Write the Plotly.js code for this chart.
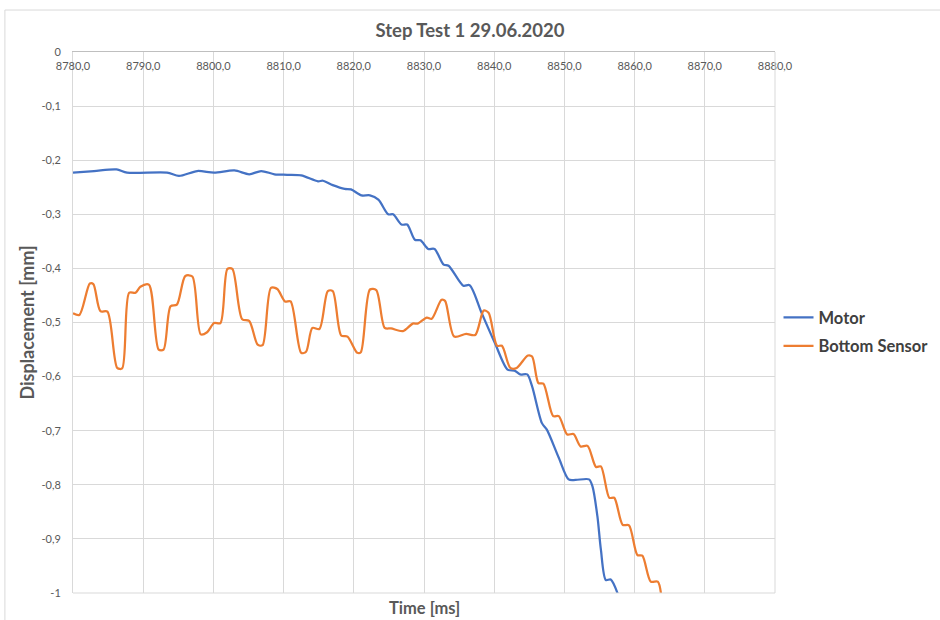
<!DOCTYPE html>
<html>
<head>
<meta charset="utf-8">
<script src="https://cdn.plot.ly/plotly-3.0.1.min.js"></script>
<style>html,body{margin:0;padding:0;background:#fff}#chart{width:940px;height:620px}</style>
</head>
<body>
<div id="chart"></div>
<script>
// Motor series (time in ms, displacement in mm)
const motorTime = [8780.0,8783.0,8786.2,8787.7,8793.4,8795.1,8797.7,8800.1,8803.0,8805.1,8806.8,8808.7,8810.5,8812.5,8814.9,8815.6,8817.0,8818.7,8819.6,8821.1,8822.3,8823.5,8824.9,8825.6,8826.8,8827.6,8828.7,8829.5,8830.6,8831.5,8832.8,8833.5,8835.6,8836.5,8838.2,8840.1,8841.9,8842.9,8843.7,8844.7,8845.4,8846.8,8847.5,8849.2,8850.6,8851.6,8853.5,8854.0,8854.7,8855.2,8855.9,8856.6,8857.7];
const motorDisp = [-0.223,-0.220,-0.217,-0.223,-0.223,-0.229,-0.220,-0.223,-0.219,-0.226,-0.220,-0.226,-0.227,-0.228,-0.239,-0.238,-0.246,-0.253,-0.254,-0.265,-0.265,-0.273,-0.300,-0.300,-0.319,-0.319,-0.347,-0.348,-0.364,-0.364,-0.393,-0.395,-0.432,-0.431,-0.482,-0.538,-0.587,-0.589,-0.596,-0.596,-0.618,-0.686,-0.698,-0.750,-0.790,-0.791,-0.790,-0.803,-0.858,-0.920,-0.976,-0.975,-1.005];

// Bottom Sensor series
const sensorTime = [8780.0,8780.9,8782.4,8782.9,8783.9,8784.9,8786.3,8787.0,8788.0,8788.9,8789.6,8790.8,8792.2,8792.9,8793.9,8794.8,8796.0,8797.0,8798.2,8799.1,8800.1,8801.0,8802.0,8802.7,8804.1,8805.1,8806.3,8807.0,8808.2,8809.1,8810.2,8811.0,8812.5,8813.2,8814.1,8815.1,8816.3,8817.0,8818.2,8819.1,8820.5,8821.0,8822.3,8823.2,8824.4,8825.3,8827.0,8828.4,8829.1,8830.4,8831.1,8832.5,8833.0,8834.3,8836.0,8837.3,8838.5,8839.2,8840.4,8841.1,8842.3,8843.2,8844.8,8845.4,8846.3,8847.0,8848.4,8849.2,8850.4,8851.3,8852.3,8853.3,8854.5,8855.2,8856.4,8857.1,8858.3,8859.2,8860.4,8861.1,8862.3,8863.3,8863.8];
const sensorDisp = [-0.483,-0.486,-0.428,-0.429,-0.479,-0.480,-0.584,-0.585,-0.445,-0.445,-0.434,-0.430,-0.550,-0.550,-0.470,-0.467,-0.414,-0.415,-0.522,-0.518,-0.501,-0.501,-0.401,-0.401,-0.494,-0.497,-0.541,-0.542,-0.436,-0.438,-0.461,-0.461,-0.556,-0.554,-0.510,-0.512,-0.442,-0.442,-0.524,-0.526,-0.556,-0.555,-0.439,-0.440,-0.510,-0.511,-0.516,-0.502,-0.502,-0.491,-0.493,-0.458,-0.460,-0.526,-0.521,-0.523,-0.478,-0.482,-0.543,-0.543,-0.584,-0.584,-0.561,-0.563,-0.612,-0.613,-0.673,-0.673,-0.707,-0.706,-0.729,-0.728,-0.767,-0.766,-0.824,-0.824,-0.874,-0.875,-0.930,-0.931,-0.979,-0.979,-1.005];

const yTickVals = [-1,-0.9,-0.8,-0.7,-0.6,-0.5,-0.4,-0.3,-0.2,-0.1,0];
const yTickText = ["-1","-0,9","-0,8","-0,7","-0,6","-0,5","-0,4","-0,3","-0,2","-0,1","0"];
const xTickVals = [8780,8790,8800,8810,8820,8830,8840,8850,8860,8870,8880];
const xTickText = ["8780,0","8790,0","8800,0","8810,0","8820,0","8830,0","8840,0","8850,0","8860,0","8870,0","8880,0"];

const FONT = "Lato, 'Open Sans', sans-serif";

const traces = [
  {x: motorTime, y: motorDisp, name: "Motor", type: "scatter", mode: "lines", legendgroup: "m",
   line: {color: "#4472C4", width: 2.25, shape: "spline", smoothing: 0.8}},
  {x: sensorTime, y: sensorDisp, name: "Bottom Sensor", type: "scatter", mode: "lines", legendgroup: "s",
   line: {color: "#ED7D31", width: 2.25, shape: "spline", smoothing: 0.8}}
];

const layout = {
  width: 940, height: 620,
  margin: {l: 73, r: 165, t: 52, b: 27, autoexpand: false},
  paper_bgcolor: "#ffffff", plot_bgcolor: "#ffffff",
  font: {family: FONT, color: "#595959", size: 11},
  title: {text: "Step Test 1 29.06.2020", x: 0.5, xref: "container", xanchor: "center",
          y: 0.95, yref: "container", yanchor: "middle",
          font: {size: 18.5, color: "#595959", family: FONT, weight: "bold"}},
  showlegend: true,
  legend: {x: 1.005, xanchor: "left", y: 0.483, yanchor: "middle",
           font: {size: 16.5, color: "#404040", family: FONT, weight: "bold"},
           itemwidth: 30, tracegroupgap: 4, bgcolor: "rgba(0,0,0,0)"},
  xaxis: {range: [8780, 8880], side: "top", tickvals: xTickVals, ticktext: xTickText,
          ticklabelposition: "inside", ticklabeloverflow: "allow", ticklabelstandoff: 10,
          ticks: "", showgrid: true, gridcolor: "#d9d9d9", gridwidth: 1,
          showline: true, linecolor: "#bfbfbf", linewidth: 1, zeroline: false,
          tickfont: {size: 11, color: "#595959"}, fixedrange: true},
  yaxis: {range: [-1, 0], tickvals: yTickVals, ticktext: yTickText, ticks: "",
          ticklabeloverflow: "allow",
          showgrid: true, gridcolor: "#d9d9d9", gridwidth: 1, showline: true, linecolor: "#d9d9d9",
          zeroline: false, tickfont: {size: 11, color: "#595959"}, ticklabelstandoff: 9,
          title: {text: "Displacement [mm]", font: {size: 18, color: "#595959", weight: "bold"}, standoff: 2},
          fixedrange: true},
  annotations: [
    {text: "Time [ms]", xref: "paper", yref: "paper", x: 0.5, y: -0.005, xanchor: "center",
     yanchor: "top", showarrow: false, font: {size: 16.5, color: "#595959", family: FONT, weight: "bold"}}
  ],
  shapes: [
    {type: "line", xref: "paper", yref: "paper", x0: 1, x1: 1, y0: 0, y1: 1, line: {color: "#d9d9d9", width: 1}},
    {type: "line", xref: "paper", yref: "paper", x0: 0, x1: 1, y0: 0, y1: 0, line: {color: "#d9d9d9", width: 1}},
    {type: "rect", xref: "paper", yref: "paper", x0: -0.097, x1: 1.5, y0: -0.2, y1: 1.0776,
     line: {color: "#d9d9d9", width: 1}, layer: "below"}
  ]
};

Plotly.newPlot("chart", traces, layout, {displayModeBar: false, staticPlot: true});
</script>
</body>
</html>
